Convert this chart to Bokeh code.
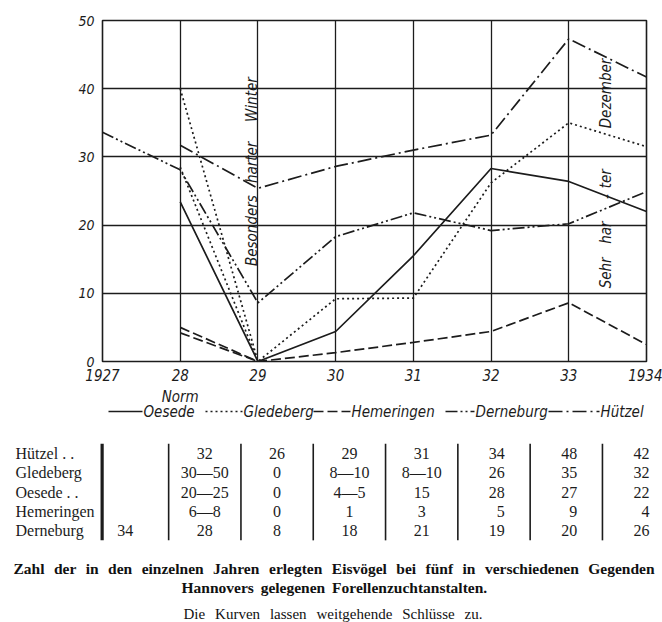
import numpy as np
from bokeh.plotting import figure
from bokeh.models import Range1d, FixedTicker, Label
from bokeh.layouts import column
from bokeh.embed import file_html
from bokeh.resources import INLINE
from bokeh.core.properties import value

# ---------------- data ----------------
years = [1927, 1928, 1929, 1930, 1931, 1932, 1933, 1934]
year_labels = ["1927", "28", "29", "30", "31", "32", "33", "1934"]
y_ticks = [0, 10, 20, 30, 40, 50]

oesede = [None, 23.4, 0, 4.4, 15.5, 28.3, 26.4, 22.0]
gledeberg = [None, 40.0, 0, 9.2, 9.3, 26.2, 35.0, 31.5]
gledeberg_low = [None, 28.5, 0, None, None, None, None, None]
hemeringen = [None, 5.0, 0, 1.3, 2.8, 4.4, 8.6, 2.5]
hemeringen_low = [None, 4.2, 0, None, None, None, None, None]
derneburg = [33.6, 28.1, 8.6, 18.3, 21.8, 19.2, 20.2, 24.9]
huetzel = [None, 31.7, 25.4, 28.6, 31.0, 33.2, 47.3, 41.7]

series_names = ["Oesede", "Gledeberg", "Hemeringen", "Derneburg", "Hützel"]

notes_29 = [("Besonders", 19.2), ("harter", 29.2), ("Winter", 38.4)]
notes_33 = [("Sehr", 13.0), ("har", 18.9), ("-", 24.2), ("ter", 26.8), ("Dezember", 39.3)]

table_rows = ["Hützel . .", "Gledeberg", "Oesede . .", "Hemeringen", "Derneburg"]
table_hutzel = ["", "32", "26", "29", "31", "34", "48", "42"]
table_gledeberg = ["", "30—50", "0", "8—10", "8—10", "26", "35", "32"]
table_oesede = ["", "20—25", "0", "4—5", "15", "28", "27", "22"]
table_hemeringen = ["", "6—8", "0", "1", "3", "5", "9", "4"]
table_derneburg = ["34", "28", "8", "18", "21", "19", "20", "26"]

caption_1 = "Zahl der in den einzelnen Jahren erlegten Eisvögel bei fünf in verschiedenen Gegenden"
caption_2 = "Hannovers gelegenen Forellenzuchtanstalten."
caption_3 = "Die Kurven lassen weitgehende Schlüsse zu."

# ---------------- style ----------------
FONT = "DejaVu Sans Condensed"
SERIF = "Liberation Serif"
INK = "#1c1c1c"
LW = 1.7

styles = {
    "Oesede": "solid",
    "Gledeberg": "2 3",
    "Hemeringen": "10 4",
    "Derneburg": "12 3 2 3 2 3",
    "Hützel": "14 4 2 4",
}

# approximate advance widths (per 1000 em) of the serif faces, used to justify captions
BOLD_W = dict(a=500, b=556, c=444, d=556, e=444, f=333, g=500, h=556, i=278, j=333, k=556,
              l=278, m=833, n=556, o=500, p=556, r=444, s=389, t=333, u=556, v=500, w=722,
              z=444, E=667, F=611, G=778, H=778, J=500, Z=667)
BOLD_W.update({"ö": 500, "ü": 556, ".": 250})
ROMAN_W = dict(a=444, c=444, d=500, e=444, g=500, h=500, i=278, l=278, n=500, r=333, s=389,
               t=278, u=500, v=500, w=722, z=444, D=722, K=722, S=556)
ROMAN_W.update({"ü": 500, ".": 250})


def arr(v):
    return np.array([np.nan if a is None else a for a in v], dtype=float)


def justify(text, left, right, size, widths):
    words = text.split(" ")
    ws = [sum(widths.get(ch, 500) for ch in w) * size / 1000.0 for w in words]
    gap = (right - left - sum(ws)) / (len(words) - 1)
    xs, x = [], left
    for w in ws:
        xs.append(x)
        x += w + gap
    return words, xs


W = 662
H1 = 383          # chart figure height
H2 = 622 - H1     # lower figure (legend, table, captions)
FR_L, FR_R, FR_T, FR_B = 102, 16, 20, 22
fr_left, fr_right = FR_L, W - FR_R
fr_top, fr_bot = FR_T, H1 - FR_B
PX_YEAR = (fr_right - fr_left) / (years[-1] - years[0])

# ================= chart =================
p = figure(width=W, height=H1, x_range=Range1d(years[0], years[-1]), y_range=Range1d(0, 50),
           output_backend="svg", toolbar_location=None,
           min_border_left=FR_L, min_border_right=FR_R, min_border_top=FR_T,
           min_border_bottom=FR_B)
p.background_fill_color = "white"
p.border_fill_color = "white"
p.outline_line_color = INK
p.outline_line_width = 1.6

p.xaxis.ticker = FixedTicker(ticks=years)
p.xaxis.major_label_overrides = {y: l for y, l in zip(years, year_labels)}
p.yaxis.ticker = FixedTicker(ticks=y_ticks)
for ax in (p.xaxis, p.yaxis):
    ax.axis_line_color = None
    ax.major_tick_line_color = None
    ax.minor_tick_line_color = None
    ax.major_label_text_font = FONT
    ax.major_label_text_font_style = "italic"
    ax.major_label_text_color = INK
p.xaxis.major_label_text_font_size = "15px"
p.yaxis.major_label_text_font_size = "14px"
p.xaxis.major_label_standoff = 1
p.yaxis.major_label_standoff = 2

p.grid.grid_line_color = INK
p.grid.grid_line_width = 1.3
p.grid.grid_line_alpha = 1.0

p.line(years, arr(oesede), line_color=INK, line_width=LW, line_dash=styles["Oesede"])
p.line(years, arr(gledeberg), line_color=INK, line_width=LW, line_dash=styles["Gledeberg"])
p.line(years, arr(gledeberg_low), line_color=INK, line_width=LW, line_dash=styles["Gledeberg"])
p.line(years, arr(hemeringen), line_color=INK, line_width=LW, line_dash=styles["Hemeringen"])
p.line(years, arr(hemeringen_low), line_color=INK, line_width=LW, line_dash=styles["Hemeringen"])
p.line(years, arr(derneburg), line_color=INK, line_width=LW, line_dash=styles["Derneburg"])
p.line(years, arr(huetzel), line_color=INK, line_width=LW, line_dash=styles["Hützel"])

for txt, yy in notes_29:
    p.add_layout(Label(x=1929, y=yy, x_offset=-6, text=txt, angle=np.pi / 2,
                       text_align="center", text_baseline="middle", text_font=FONT,
                       text_font_style="italic", text_font_size="15px", text_color=INK))
for txt, yy in notes_33:
    p.add_layout(Label(x=1933, y=yy, x_offset=37, text=txt, angle=np.pi / 2,
                       text_align="center", text_baseline="middle", text_font=FONT,
                       text_font_style="italic", text_font_size="15px", text_color=INK))

# ================= lower part: legend, table, captions =================
PX_COL, PX_ROW = 72.3, 19.3
COL0_PAGE, ROW0_PAGE = 132, 453


def col_of(page_x):
    return (page_x - COL0_PAGE) / PX_COL


def row_of(page_y):
    return (ROW0_PAGE - page_y) / PX_ROW


def yr_of(page_x):
    return years[0] + (page_x - fr_left) / PX_YEAR


t = figure(width=W, height=H2, output_backend="svg", toolbar_location=None,
           x_range=Range1d(yr_of(0), yr_of(W)),
           y_range=Range1d(row_of(H1 + H2), row_of(H1)),
           x_axis_location=None, y_axis_location=None,
           min_border_left=0, min_border_right=0, min_border_top=0, min_border_bottom=0)
t.extra_x_ranges = {"tab": Range1d(col_of(0), col_of(W))}
t.grid.visible = False
t.outline_line_color = None
t.background_fill_color = "white"
t.border_fill_color = "white"

for fig in (p, t):
    if "frame_align" in fig.properties():
        fig.frame_align = False

# "Norm" under 1928
t.text(x=[years[1]], y=[row_of(396)], text=["Norm"], text_font=value(FONT),
       text_font_style="italic", text_font_size="15px", text_color=INK,
       text_align="center", text_baseline="middle")

# legend
legend_slots = [(108, 142), (205, 242), (313, 350), (445, 474), (548, 599)]
LEG_Y = row_of(411)
for name, (a, b) in zip(series_names, legend_slots):
    t.segment(x0=[yr_of(a)], y0=[LEG_Y], x1=[yr_of(b)], y1=[LEG_Y],
              line_color=INK, line_width=LW, line_dash=styles[name])
    t.text(x=[yr_of(b + 1)], y=[LEG_Y], text=[name], text_font=value(FONT),
           text_font_style="italic", text_font_size="15px", text_color=INK,
           text_align="left", text_baseline="middle")

# table
rows = [table_hutzel, table_gledeberg, table_oesede, table_hemeringen, table_derneburg]
n_rows = len(rows)
ncols = len(years)
TAB_SIZE = "16px"

t.text(x=[col_of(15)] * n_rows, y=[-i for i in range(n_rows)], text=table_rows,
       x_range_name="tab", text_font=value(SERIF), text_font_size=TAB_SIZE,
       text_color=INK, text_align="left", text_baseline="middle")

cx, cy, ctext, rx, ry, rtext = [], [], [], [], [], []
for i, row in enumerate(rows):
    for j, v in enumerate(row):
        if j >= 5:
            rx.append(j + 0.15); ry.append(-i); rtext.append(v)
        else:
            cx.append(j - (0.1 if j == 0 else 0)); cy.append(-i); ctext.append(v)
t.text(x=cx, y=cy, text=ctext, x_range_name="tab", text_font=value(SERIF),
       text_font_size=TAB_SIZE, text_color=INK, text_align="center", text_baseline="middle")
t.text(x=rx, y=ry, text=rtext, x_range_name="tab", text_font=value(SERIF),
       text_font_size=TAB_SIZE, text_color=INK, text_align="right", text_baseline="middle")

sep_x = [j - 0.5 for j in range(ncols)]
sep_x[0] = -0.42
top_y, bot_y = 0.5, -(n_rows - 1) - 0.5
t.segment(x0=sep_x[:1], y0=[top_y], x1=sep_x[:1], y1=[bot_y], x_range_name="tab",
          line_color=INK, line_width=3.2)
t.segment(x0=sep_x[1:], y0=[top_y] * (ncols - 1), x1=sep_x[1:], y1=[bot_y] * (ncols - 1),
          x_range_name="tab", line_color=INK, line_width=1.6)

# captions (justified word by word, as in the printed original)
for txt, left, right, py, style, size, widths in (
        (caption_1, 13, 654, 568, "bold", 15.5, BOLD_W),
        (caption_2, 181, 487, 587, "bold", 15.5, BOLD_W),
        (caption_3, 183, 482, 613, "normal", 15, ROMAN_W)):
    words, xs = justify(txt, left, right, size, widths)
    t.text(x=[col_of(x) for x in xs], y=[row_of(py)] * len(words), text=words,
           x_range_name="tab", text_font=value(SERIF), text_font_style=style,
           text_font_size=f"{size}px", text_color="#111111",
           text_align="left", text_baseline="middle")

layout = column(p, t)
open("out.html", "w").write(file_html(layout, INLINE))
